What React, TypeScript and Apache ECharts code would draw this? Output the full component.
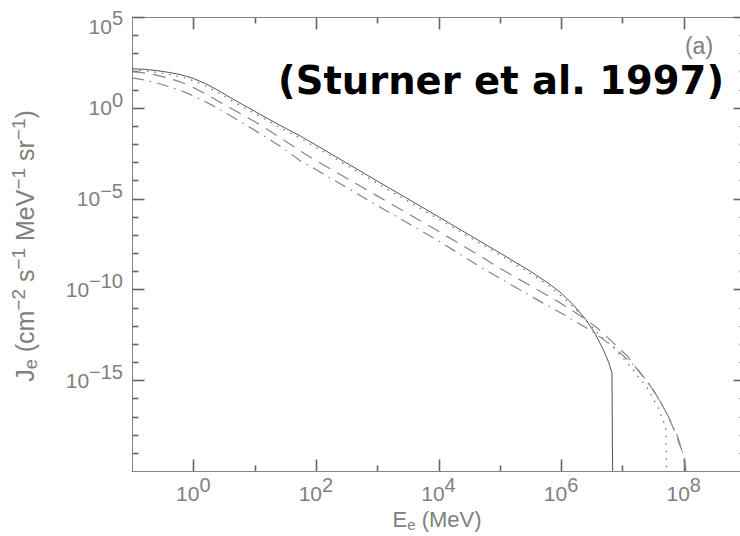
import React, { useEffect, useRef } from "react";
import * as echarts from "echarts";

// Axis extents and ticks (log10 exponents)
const xMin = -1;
const xMax = 9;
const yMin = -20;
const yMax = 5;
const xMajorTicks = [0, 2, 4, 6, 8];
const xMinorTicks = [1, 3, 5, 7];
const yMajorTicks = [-15, -10, -5, 0, 5];
const yMinorTicks = [-19, -18, -17, -16, -14, -13, -12, -11, -9, -8, -7, -6, -4, -3, -2, -1, 1, 2, 3, 4];

// Solid curve: log10(E / MeV), log10(J)
const solidLogE = [-1.0, -0.8, -0.6, -0.4, -0.2, 0.0, 0.2, 0.4, 0.62, 0.8, 1.0, 1.25, 1.5, 1.76, 2.0, 3.0, 4.0, 5.0, 5.5, 5.8, 6.0, 6.2, 6.4, 6.55, 6.7, 6.78, 6.83, 6.84];
const solidLogJ = [2.15, 2.12, 2.05, 1.95, 1.82, 1.62, 1.33, 0.97, 0.53, 0.19, -0.19, -0.66, -1.12, -1.58, -2.05, -4.03, -6.0, -7.99, -9.0, -9.68, -10.2, -10.85, -11.65, -12.4, -13.4, -14.05, -14.6, -20];

// Dotted curve
const dottedLogE = [-1.0, -0.8, -0.6, -0.4, -0.2, 0.0, 0.2, 0.4, 0.62, 0.8, 1.0, 1.25, 1.5, 1.76, 2.0, 3.0, 4.0, 5.0, 5.5, 5.8, 6.05, 6.24, 6.43, 6.65, 6.86, 7.03, 7.19, 7.41, 7.58, 7.71, 7.72];
const dottedLogJ = [2.1, 2.03, 1.95, 1.84, 1.7, 1.5, 1.2, 0.84, 0.41, 0.07, -0.31, -0.78, -1.24, -1.7, -2.17, -4.15, -6.12, -8.1, -9.12, -9.8, -10.5, -11.1, -11.8, -12.6, -13.2, -13.85, -14.5, -15.45, -16.5, -17.6, -20];

// Dashed curve
const dashedLogE = [-1.0, -0.8, -0.6, -0.4, -0.2, 0.0, 0.2, 0.4, 0.62, 0.8, 1.0, 1.25, 1.5, 1.76, 2.0, 3.0, 4.0, 4.7, 5.02, 5.5, 6.0, 6.38, 6.6, 6.87, 7.09, 7.25, 7.41, 7.52, 7.63, 7.74, 7.82, 7.9, 8.01, 8.04];
const dashedLogJ = [2.0, 1.92, 1.8, 1.63, 1.41, 1.12, 0.77, 0.38, -0.04, -0.38, -0.76, -1.28, -1.83, -2.41, -2.9, -4.85, -6.8, -8.2, -8.88, -9.8, -10.77, -11.6, -12.15, -13.0, -13.7, -14.45, -15.1, -15.65, -16.25, -16.95, -17.55, -18.25, -19.2, -20];

// Dash-dot curve
const dashDotLogE = [-1.0, -0.8, -0.6, -0.4, -0.2, 0.0, 0.2, 0.4, 0.62, 0.8, 1.0, 1.25, 1.5, 1.76, 2.0, 3.0, 4.0, 4.7, 5.24, 5.6, 6.05, 6.5, 6.87, 7.25, 7.5, 7.75, 7.9, 8.0, 8.03];
const dashDotLogJ = [1.65, 1.53, 1.37, 1.17, 0.94, 0.66, 0.33, -0.03, -0.46, -0.83, -1.23, -1.76, -2.31, -2.96, -3.4, -5.38, -7.33, -8.8, -9.85, -10.55, -11.4, -12.3, -13.2, -14.4, -15.5, -17.0, -18.1, -19.2, -20];

const AXIS_COLOR = "#858585";
const TICK_COLOR = "#666666";
const TEXT_COLOR = "#808080";
const FONT = "'Liberation Sans', Arial, sans-serif";

const supText = (n: number) => (n < 0 ? "\u2212" + Math.abs(n) : String(n));
const tickFormatter = (v: number | string) => {
  const n = Math.round(Number(v));
  const body = `{b|10}{s|${supText(n)}}`;
  return n === yMax ? `{gap|}\n${body}` : body;
};
const labelRich = {
  b: { fontSize: 21, fontFamily: FONT, color: TEXT_COLOR },
  s: { fontSize: 20, fontFamily: FONT, color: TEXT_COLOR, padding: [0, 0, 16, 0] },
  gap: { fontSize: 10, lineHeight: 18, height: 18 },
};

const pairs = (xs: number[], ys: number[]) => xs.map((x, i) => [x, ys[i]]);

const textGraphics = [
  {
    type: "text", x: 724, y: 80,
    style: {
      text: "(Sturner et al. 1997)", fontSize: 38.5, fontWeight: "bold",
      fontFamily: "'DejaVu Sans', sans-serif", fill: "#000000", align: "right", verticalAlign: "middle",
    },
  },
  {
    type: "text", x: 699, y: 46,
    style: { text: "(a)", fontSize: 23, fontFamily: FONT, fill: TEXT_COLOR, align: "center", verticalAlign: "middle" },
  },
  {
    type: "text", x: 437, y: 519,
    style: {
      text: "{t|E}{sub|e}{t| (MeV)}",
      align: "center", verticalAlign: "middle", fill: TEXT_COLOR,
      rich: {
        t: { fontSize: 22, fontFamily: FONT, fill: TEXT_COLOR },
        sub: { fontSize: 15, fontFamily: FONT, fill: TEXT_COLOR, padding: [10, 0, 0, 0] },
      },
    },
  },
  {
    type: "text", x: 25, y: 246, rotation: Math.PI / 2,
    style: {
      text: "{t|J}{sub|e}{t| (cm}{sup|\u22122}{t| s}{sup|\u22121}{t| MeV}{sup|\u22121}{t| sr}{sup|\u22121}{t|)}",
      align: "center", verticalAlign: "middle", fill: TEXT_COLOR,
      rich: {
        t: { fontSize: 25, fontFamily: FONT, fill: TEXT_COLOR },
        sub: { fontSize: 18, fontFamily: FONT, fill: TEXT_COLOR, padding: [12, 0, 0, 0] },
        sup: { fontSize: 19, fontFamily: FONT, fill: TEXT_COLOR, padding: [0, 0, 14, 0] },
      },
    },
  },
];

export default function App() {
  const ref = useRef<HTMLDivElement>(null);
  useEffect(() => {
    if (!ref.current) return;
    const chart = echarts.init(ref.current, null, { renderer: "svg" });
    chart.setOption({
      animation: false,
      grid: { left: 132, top: 17, width: 613, height: 454, outerBoundsMode: "none", containLabel: false },
      xAxis: {
        type: "value", min: xMin, max: xMax,
        splitLine: { show: false },
        axisLine: { show: true, onZero: false, lineStyle: { color: AXIS_COLOR, width: 1 } },
        axisTick: { show: false },
        axisLabel: { show: true, customValues: xMajorTicks, formatter: tickFormatter, rich: labelRich, margin: 4 },
      },
      yAxis: {
        type: "value", min: yMin, max: yMax,
        splitLine: { show: false },
        axisLine: { show: true, onZero: false, lineStyle: { color: AXIS_COLOR, width: 1 } },
        axisTick: { show: false },
        axisLabel: { show: true, customValues: yMajorTicks, formatter: tickFormatter, rich: labelRich, margin: 9 },
      },
      series: [
        {
          type: "line", name: "solid", showSymbol: false,
          data: pairs(solidLogE, solidLogJ),
          lineStyle: { color: "#555555", width: 1, type: "solid" },
        },
        {
          type: "line", name: "dotted", showSymbol: false,
          data: pairs(dottedLogE, dottedLogJ),
          lineStyle: { color: "#6a6a6a", width: 1.2, type: [1.5, 6] },
        },
        {
          type: "line", name: "dashed", showSymbol: false,
          data: pairs(dashedLogE, dashedLogJ),
          lineStyle: { color: "#858585", width: 1.2, type: [13, 8] },
        },
        {
          type: "line", name: "dashdot", showSymbol: false,
          data: pairs(dashDotLogE, dashDotLogJ),
          lineStyle: { color: "#858585", width: 1.2, type: [12, 6, 1.5, 6] },
        },
      ],
    });

    // Frame (top/right) and tick marks, placed through the grid's own scales
    const crisp = (p: number) => Math.round(p) + 0.5;
    const px = (x: number, y: number) => {
      const p = chart.convertToPixel({ gridIndex: 0 }, [x, y]) as number[];
      return [crisp(p[0]), crisp(p[1])];
    };
    const seg = (a: number[], b: number[], color: string, w: number) => ({
      type: "line", silent: true,
      shape: { x1: a[0], y1: a[1], x2: b[0], y2: b[1] },
      style: { stroke: color, lineWidth: w },
    });
    const lines: any[] = [];
    lines.push(seg(px(xMin, yMax), px(xMax, yMax), AXIS_COLOR, 1));
    lines.push(seg(px(xMax, yMin), px(xMax, yMax), AXIS_COLOR, 1));
    const xTick = (v: number, len: number) => {
      const b = px(v, yMin);
      const t = px(v, yMax);
      lines.push(seg(b, [b[0], b[1] - len], TICK_COLOR, 1.6));
      lines.push(seg(t, [t[0], t[1] + len], TICK_COLOR, 1.6));
    };
    const yTick = (v: number, len: number) => {
      const l = px(xMin, v);
      const r = px(xMax, v);
      lines.push(seg(l, [l[0] + len, l[1]], TICK_COLOR, 1.6));
      lines.push(seg(r, [r[0] - len, r[1]], TICK_COLOR, 1.6));
    };
    xMajorTicks.forEach((v) => xTick(v, 12));
    xMinorTicks.forEach((v) => xTick(v, 6));
    yMajorTicks.forEach((v) => yTick(v, 12));
    yMinorTicks.forEach((v) => yTick(v, 6));

    chart.setOption({ graphic: [...lines, ...textGraphics] });
    return () => chart.dispose();
  }, []);
  return <div ref={ref} style={{ position: "absolute", left: 0, top: 0, width: 740, height: 536 }} />;
}
